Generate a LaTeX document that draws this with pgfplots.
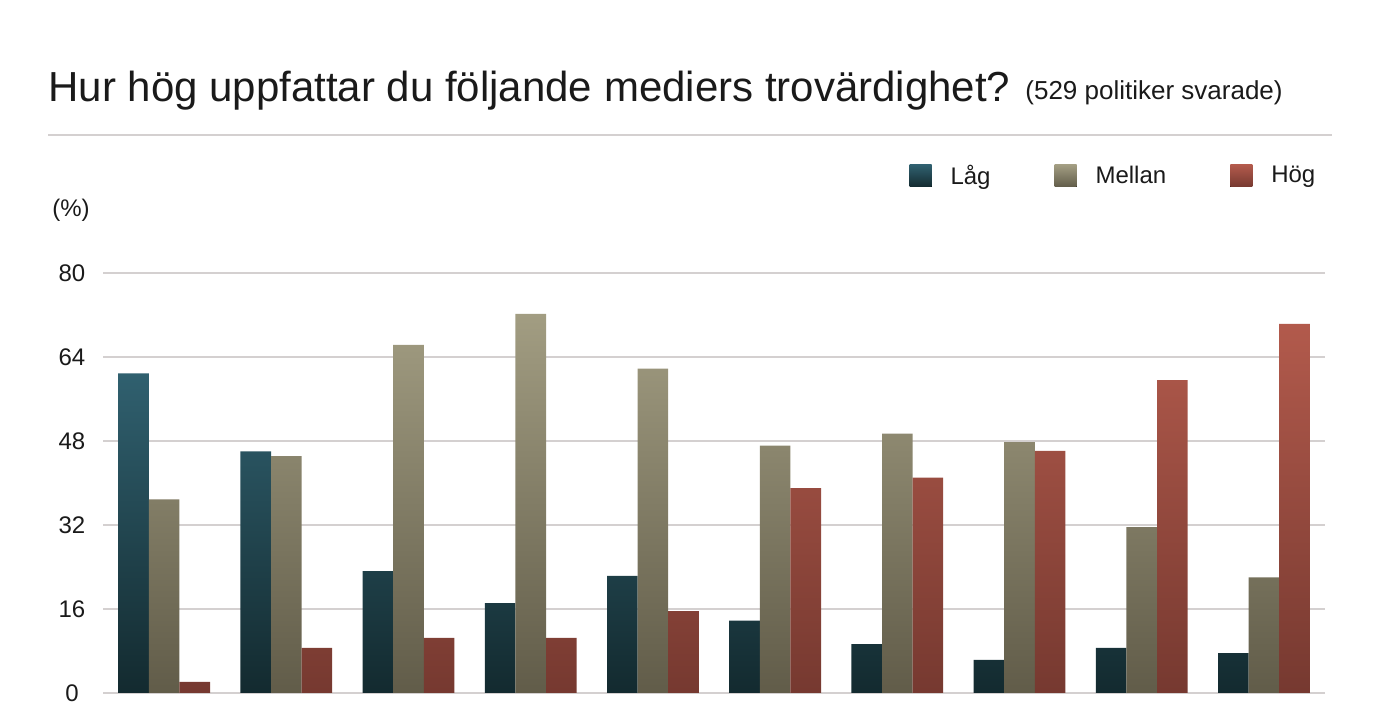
\documentclass[border=0pt]{standalone}
\usepackage{pgfplots}
\pgfplotsset{compat=1.18}
\usepackage{fontspec}
\setmainfont{Liberation Sans}
\definecolor{lagtop}{HTML}{30606F}
\definecolor{lagbot}{HTML}{132A2F}
\definecolor{meltop}{HTML}{A29D82}
\definecolor{melbot}{HTML}{615C49}
\definecolor{hogtop}{HTML}{B25A4C}
\definecolor{hogbot}{HTML}{763930}
\definecolor{gridc}{HTML}{D4D0D0}
\definecolor{txt}{HTML}{1A1A1A}
\begin{document}
\begin{tikzpicture}
\useasboundingbox (0,0) rectangle (690pt,355pt);
% rubrik
\node[anchor=base west, inner sep=0pt, text=txt, font=\fontsize{21}{24}\selectfont] at (24pt,304pt) {Hur hög uppfattar du följande mediers trovärdighet?};
\node[anchor=base west, inner sep=0pt, text=txt, font=\fontsize{13}{15}\selectfont] at (512.5pt,305pt) {(529 politiker svarade)};
\draw[gridc, line width=0.6pt] (24pt,287.5pt) -- (666pt,287.5pt);
\node[anchor=west, inner sep=0pt, text=txt, font=\fontsize{12}{14}\selectfont] at (26pt,250pt) {(\%)};
\begin{axis}[
    at={(51.5pt,8.5pt)}, anchor=south west,
    scale only axis,
    width=611pt, height=210pt,
    ybar=0pt, bar width=15.3pt,
    xmin=-0.5, xmax=9.5,
    ymin=0, ymax=80,
    ytick={0,16,32,48,64,80},
    xtick=\empty,
    axis line style={draw=none},
    major tick length=0pt,
    ymajorgrids=true,
    grid style={gridc, line width=0.6pt},
    yticklabel style={anchor=center, xshift=-15.5pt, text=txt, font=\fontsize{12}{14}\selectfont},
    /pgf/number format/assume math mode=true,
    legend columns=3,
    legend style={draw=none, fill=none, inner sep=0pt, outer sep=0pt,
        at={(axis description cs:0.660,1.231)}, anchor=west,
        font=\fontsize{12}{14}\selectfont, text=txt,
        /tikz/every odd column/.append style={column sep=7.5pt},
        /tikz/every even column/.append style={column sep=30pt}},
    legend cell align=left,
    legend image code/.code={\fill[#1] (0pt,-5.5pt) rectangle (11pt,5.5pt);},
]
\addplot[draw=none, top color=lagtop, bottom color=lagbot] coordinates {
 (0,60.9) (1,46.0) (2,23.2) (3,17.1) (4,22.3) (5,13.8) (6,9.3) (7,6.3) (8,8.6) (9,7.6)};
\addplot[draw=none, top color=meltop, bottom color=melbot] coordinates {
 (0,36.9) (1,45.1) (2,66.3) (3,72.2) (4,61.8) (5,47.1) (6,49.4) (7,47.8) (8,31.6) (9,22.0)};
\addplot[draw=none, top color=hogtop, bottom color=hogbot] coordinates {
 (0,2.1) (1,8.6) (2,10.5) (3,10.5) (4,15.6) (5,39.0) (6,41.0) (7,46.1) (8,59.6) (9,70.3)};
\legend{Låg, Mellan, Hög}
\end{axis}
\end{tikzpicture}
\end{document}
